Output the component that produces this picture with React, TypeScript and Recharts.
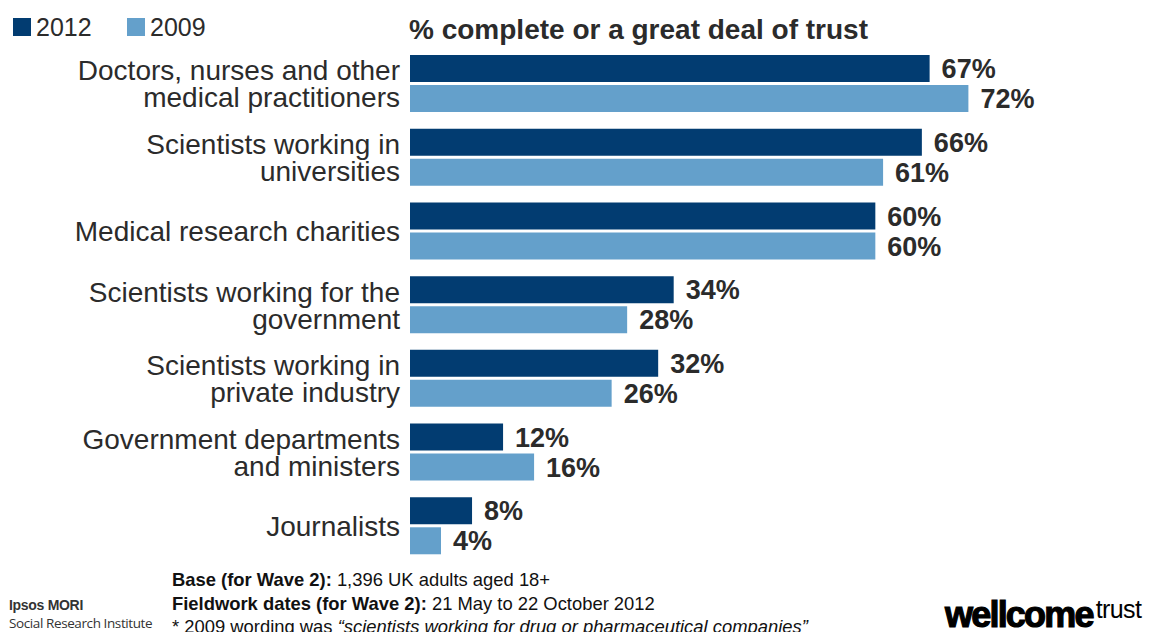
import React from 'react';
import { BarChart, Bar, XAxis, YAxis, LabelList } from 'recharts';

const categories = [
  'Doctors, nurses and other\nmedical practitioners',
  'Scientists working in\nuniversities',
  'Medical research charities',
  'Scientists working for the\ngovernment',
  'Scientists working in\nprivate industry',
  'Government departments\nand ministers',
  'Journalists',
];
const values2012 = [67, 66, 60, 34, 32, 12, 8];
const values2009 = [72, 61, 60, 28, 26, 16, 4];
const seriesNames = ['2012', '2009'];

const DARK = '#023c71';
const LIGHT = '#64a0cb';
const TEXT = '#2b2b2b';
const FONT = '"Liberation Sans", Arial, sans-serif';

const data = categories.map((name, i) => ({
  name,
  y2012: values2012[i],
  y2009: values2009[i],
}));

// multi-line category label, right aligned against the bars
const CategoryTick = (props: any) => {
  const { x, y, payload } = props;
  const lines: string[] = String(payload.value).split('\n');
  const lh = 27;
  const start = y - ((lines.length - 1) * lh) / 2;
  return (
    <g>
      {lines.map((line, i) => (
        <text
          key={i}
          x={x - 2}
          y={start + i * lh}
          dy="0.36em"
          textAnchor="end"
          fill={TEXT}
          fontSize={28}
          fontFamily={FONT}
        >
          {line}
        </text>
      ))}
    </g>
  );
};

const labelStyle = { fontSize: 27, fontWeight: 700, fill: TEXT, fontFamily: FONT };

export default function App() {
  return (
    <div style={{ position: 'absolute', left: 0, top: 0, width: 1159, height: 632, background: '#fff', fontFamily: FONT, overflow: 'hidden' }}>
      <BarChart
        width={1159}
        height={632}
        data={data}
        layout="vertical"
        margin={{ top: 47, right: 51, bottom: 69, left: 0 }}
        barGap={3}
        barSize={27}
      >
        <XAxis type="number" domain={[0, 90]} hide />
        <YAxis
          type="category"
          dataKey="name"
          width={410}
          axisLine={false}
          tickLine={false}
          tick={<CategoryTick />}
          interval={0}
        />
        <Bar dataKey="y2012" name={seriesNames[0]} fill={DARK} isAnimationActive={false}>
          <LabelList dataKey="y2012" position="right" offset={12} formatter={(v: any) => `${v}%`} style={labelStyle} />
        </Bar>
        <Bar dataKey="y2009" name={seriesNames[1]} fill={LIGHT} isAnimationActive={false}>
          <LabelList dataKey="y2009" position="right" offset={12} formatter={(v: any) => `${v}%`} style={labelStyle} />
        </Bar>
      </BarChart>

      {/* legend */}
      <div style={{ position: 'absolute', left: 13, top: 14, display: 'flex', fontSize: 25, color: TEXT, lineHeight: '26px' }}>
        {[DARK, LIGHT].map((color, i) => (
          <div key={i} style={{ display: 'flex', alignItems: 'center', width: i === 0 ? 114 : 'auto' }}>
            <span style={{ display: 'inline-block', width: 18, height: 18, background: color, marginRight: 5 }} />
            <span>{seriesNames[i]}</span>
          </div>
        ))}
      </div>

      <div style={{ position: 'absolute', left: 409, top: 13, fontSize: 28, fontWeight: 700, color: TEXT, lineHeight: '34px' }}>
        % complete or a great deal of trust
      </div>

      <div style={{ position: 'absolute', left: 172, top: 568, fontSize: 18.4, color: '#111', lineHeight: '23.5px', whiteSpace: 'nowrap' }}>
        <div><b>Base (for Wave 2):</b> 1,396 UK adults aged 18+</div>
        <div><b>Fieldwork dates (for Wave 2):</b> 21 May to 22 October 2012</div>
        <div>* 2009 wording was <i>“scientists working for drug or pharmaceutical companies”</i></div>
      </div>

      <div style={{ position: 'absolute', left: 9, top: 596, color: '#333', lineHeight: '18px' }}>
        <div style={{ fontSize: 14, fontWeight: 700, letterSpacing: -0.3 }}>Ipsos MORI</div>
        <div style={{ fontSize: 13.5, fontFamily: '"Open Sans", sans-serif', letterSpacing: -0.4 }}>Social Research Institute</div>
      </div>

      <div style={{ position: 'absolute', left: 945, top: 591, color: '#000', whiteSpace: 'nowrap', lineHeight: '36px', height: 36 }}>
        <span style={{ fontSize: 36, fontWeight: 900, letterSpacing: -1.8, WebkitTextStroke: '1.2px #000' }}>wellcome</span>
        <span style={{ fontSize: 25, verticalAlign: 9, letterSpacing: -0.6, marginLeft: 3 }}>trust</span>
      </div>
    </div>
  );
}
